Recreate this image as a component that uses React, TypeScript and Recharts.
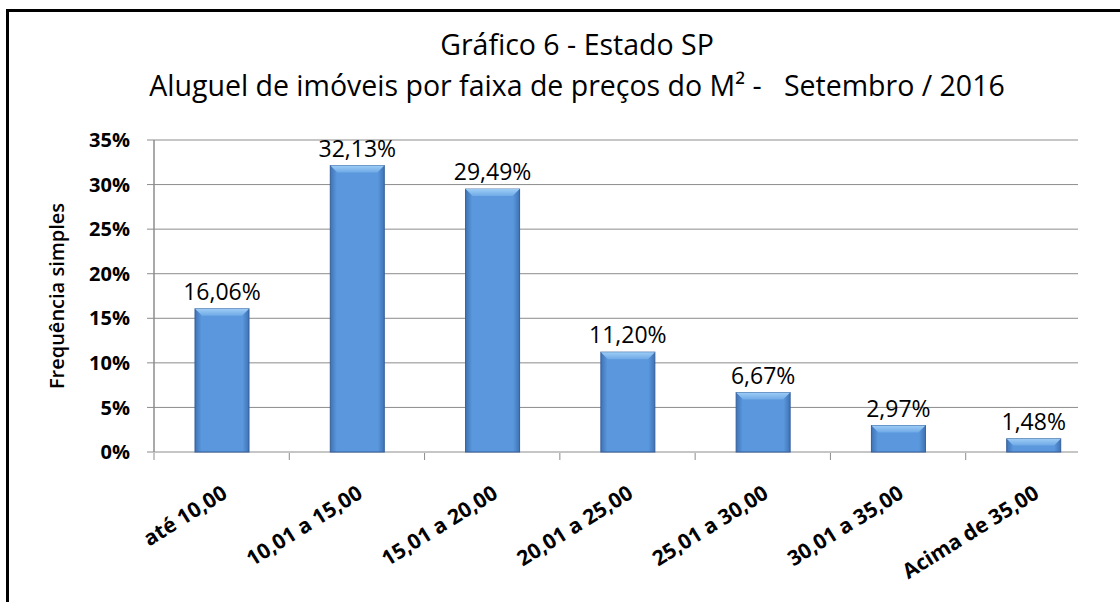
import { BarChart, Bar, XAxis, YAxis, CartesianGrid, LabelList } from "recharts";

const faixas = [
  "até 10,00",
  "10,01 a 15,00",
  "15,01 a 20,00",
  "20,01 a 25,00",
  "25,01 a 30,00",
  "30,01 a 35,00",
  "Acima de 35,00",
];
const frequencia = [16.06, 32.13, 29.49, 11.2, 6.67, 2.97, 1.48];
const yTicks = [0, 5, 10, 15, 20, 25, 30, 35];
const edgeTicks = [0, 1, 2, 3, 4, 5, 6];

const data = faixas.map((faixa, i) => ({ faixa, valor: frequencia[i], pos: i + 0.5 }));

const FONT = "'Open Sans', 'DejaVu Sans', sans-serif";

function BevelBar(props: any) {
  const { x, y, width, height } = props;
  if (!height || height <= 0) return null;
  const b = Math.min(7, height / 2);
  return (
    <g>
      <rect x={x} y={y} width={width} height={height} fill="url(#barBody)" stroke="#355f9a" strokeWidth={1} />
      <polygon
        points={`${x},${y} ${x + width},${y} ${x + width - b},${y + b} ${x + b},${y + b}`}
        fill="url(#barTop)"
      />
    </g>
  );
}

function XTick(props: any) {
  const { x, y, payload } = props;
  const ax = x + 7;
  const ay = y + 37;
  return (
    <text
      x={ax}
      y={ay}
      transform={`rotate(-32, ${ax}, ${ay})`}
      textAnchor="end"
      fontFamily={FONT}
      fontWeight={700}
      fontSize={21}
      fill="#000"
    >
      {payload.value}
    </text>
  );
}

export default function App() {
  return (
    <div style={{ position: "absolute", left: 0, top: 0, width: 1120, height: 602, background: "#fff", overflow: "hidden" }}>
      <div
        style={{
          position: "absolute",
          left: 6,
          top: 9,
          width: 1200,
          height: 700,
          borderLeft: "3px solid #000",
          borderTop: "3px solid #000",
        }}
      />
      <div
        style={{
          position: "absolute",
          left: 0,
          top: 24,
          width: 1154,
          textAlign: "center",
          fontFamily: FONT,
          fontWeight: 500,
          fontSize: 28.5,
          lineHeight: "41px",
          color: "#000",
        }}
      >
        <div>Gráfico 6 - Estado SP</div>
        <div style={{ whiteSpace: "pre" }}>Aluguel de imóveis por faixa de preços do M² -   Setembro / 2016</div>
      </div>
      <div
        style={{
          position: "absolute",
          left: 56,
          top: 296,
          transform: "translate(-50%, -50%) rotate(-90deg)",
          whiteSpace: "nowrap",
          fontFamily: FONT,
          fontWeight: 600,
          fontSize: 20,
          color: "#000",
        }}
      >
        Frequência simples
      </div>
      <div style={{ position: "absolute", left: 0, top: 0 }}>
        <BarChart width={1120} height={602} data={data} margin={{ top: 140, right: 19, left: 0, bottom: 0 }}>
          <defs>
            <linearGradient id="barBody" x1="0" y1="0" x2="1" y2="0">
              <stop offset="0%" stopColor="#3f73b6" />
              <stop offset="12%" stopColor="#5a97dc" />
              <stop offset="88%" stopColor="#5a97dc" />
              <stop offset="100%" stopColor="#3f73b6" />
            </linearGradient>
            <linearGradient id="barTop" x1="0" y1="0" x2="0" y2="1">
              <stop offset="0%" stopColor="#9dcdf6" />
              <stop offset="100%" stopColor="#6fa9e6" />
            </linearGradient>
          </defs>
          <CartesianGrid vertical={false} stroke="#8c8c8c" strokeWidth={1} x={154} width={924} />
          <YAxis
            type="number"
            domain={[0, 35]}
            ticks={yTicks}
            width={154}
            tickFormatter={(v: number) => `${v}%`}
            axisLine={{ stroke: "#8c8c8c", strokeWidth: 1.5 }}
            tickLine={{ stroke: "#8c8c8c" }}
            tickSize={7}
            tickMargin={17}
            tick={{ fontFamily: FONT, fontWeight: 700, fontSize: 20, fill: "#000" }}
          />
          <XAxis
            xAxisId="edges"
            dataKey="pos"
            type="number"
            domain={[0, 7]}
            ticks={edgeTicks}
            allowDataOverflow
            height={149}
            tickFormatter={() => ""}
            axisLine={false}
            tickLine={{ stroke: "#8c8c8c" }}
            tickSize={7}
          />
          <XAxis
            xAxisId="cat"
            dataKey="faixa"
            height={1}
            interval={0}
            axisLine={false}
            tickLine={false}
            tick={<XTick />}
          />
          <Bar xAxisId="cat" dataKey="valor" barSize={54} shape={<BevelBar />} isAnimationActive={false}>
            <LabelList
              dataKey="valor"
              position="top"
              offset={9}
              formatter={(v: any) => `${Number(v).toFixed(2).replace(".", ",")}%`}
              style={{ fontFamily: FONT, fontWeight: 500, fontSize: 23, fill: "#000" }}
            />
          </Bar>
        </BarChart>
      </div>
    </div>
  );
}
